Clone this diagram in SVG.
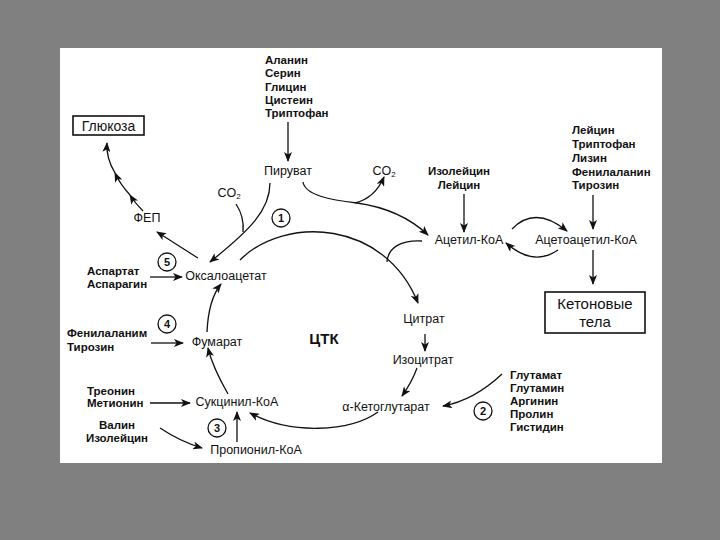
<svg xmlns="http://www.w3.org/2000/svg" width="720" height="540" viewBox="0 0 720 540">
<defs>
<style>
text{font-family:"Liberation Sans",Arial,sans-serif;fill:#111}
.m{font-size:12.5px}
.l{font-size:11.5px;font-weight:bold}
.c{text-anchor:middle}
.box{fill:#fff;stroke:#111;stroke-width:1.6}
.num{fill:none;stroke:#111;stroke-width:1.3}
.n{font-size:11px;font-weight:bold;text-anchor:middle}
.e path{fill:none;stroke:#111;stroke-width:1.3}
.e path.a{marker-end:url(#ah)}
</style>
<marker id="ah" viewBox="0 0 10 8" refX="9" refY="4" markerWidth="11" markerHeight="8" markerUnits="userSpaceOnUse" orient="auto">
<path d="M0,0 L10,4 L0,8 L2.5,4 z" fill="#111"/>
</marker>
</defs>
<rect x="0" y="0" width="720" height="540" fill="#808080"/>
<rect x="60" y="48" width="602" height="415" fill="#fff"/>

<g class="e" id="connectors">
<path class="a" d="M288,122 L288,161"/>
<path class="a" d="M464,194 L464,232"/>
<path class="a" d="M593,195 L593,229"/>
<path class="a" d="M593,250 L593,284"/>
<path class="a" d="M512,229 Q535,205 567,231"/>
<path class="a" d="M558,250 Q533,267 506,243"/>
<path class="a" d="M303,182 C305,195 330,200 357,203 C385,207 410,218 428,235"/>
<path class="a" d="M355,203 Q375,198 384,177"/>
<path class="a" d="M270,183 C270,210 250,230 210,262"/>
<path d="M236,204 C242,213 244,222 243,232"/>
<path class="a" d="M240,260 C285,215 385,220 418,303"/>
<path d="M422,241 C400,240 388,248 387,262"/>
<path class="a" d="M425,334 L425,351"/>
<path class="a" d="M417,368 Q412,382 402,396"/>
<path class="a" d="M502,374 C485,390 465,402 443,406"/>
<path class="a" d="M378,412 C350,432 290,435 250,413"/>
<path class="a" d="M228,394 C220,380 212,365 208,348"/>
<path class="a" d="M207,332 C208,310 212,295 221,284"/>
<path class="a" d="M198,258 C185,250 170,240 157,232"/>
<path class="a" d="M143,211 Q135,203 130,195"/>
<path class="a" d="M130,195 Q120,184 115,173"/>
<path class="a" d="M115,173 Q106,158 107,143"/>
<path class="a" d="M150,277 L182,277"/>
<path class="a" d="M151,343 L183,343"/>
<path class="a" d="M150,403 L190,403"/>
<path class="a" d="M160,428 C172,436 185,443 202,448"/>
<path class="a" d="M237,442 L237,412"/>
</g>

<g id="aa-pyruvate">
<text class="l" x="265" y="64">Аланин</text>
<text class="l" x="265" y="77">Серин</text>
<text class="l" x="265" y="91">Глицин</text>
<text class="l" x="265" y="104">Цистеин</text>
<text class="l" x="265" y="117">Триптофан</text>
</g>
<g id="pyruvate"><text class="m c" x="288" y="175">Пируват</text></g>
<g id="co2-top"><text class="m c" x="384" y="175">CO<tspan font-size="8" dy="2">2</tspan></text></g>
<g id="co2-left"><text class="m c" x="229" y="197">CO<tspan font-size="8" dy="2">2</tspan></text></g>
<g id="aa-acetyl">
<text class="l c" x="459" y="175">Изолейцин</text>
<text class="l c" x="459" y="189">Лейцин</text>
</g>
<g id="acetyl-coa"><text class="m c" x="469" y="244">Ацетил-КоА</text></g>
<g id="acetoacetyl-coa"><text class="m c" x="586" y="244">Ацетоацетил-КоА</text></g>
<g id="aa-acetoacetyl">
<text class="l" x="572" y="134">Лейцин</text>
<text class="l" x="572" y="148">Триптофан</text>
<text class="l" x="572" y="162">Лизин</text>
<text class="l" x="572" y="176">Фенилаланин</text>
<text class="l" x="572" y="189">Тирозин</text>
</g>
<g id="ketone-bodies">
<rect class="box" x="545" y="292" width="100" height="41"/>
<text class="c" x="595" y="309" font-size="15">Кетоновые</text>
<text class="c" x="595" y="327" font-size="15">тела</text>
</g>
<g id="glucose">
<rect class="box" x="73" y="116" width="71" height="19"/>
<text class="c" x="108.5" y="131" font-size="14">Глюкоза</text>
</g>
<g id="pep"><text class="m c" x="147" y="222">ФЕП</text></g>
<g id="oxaloacetate"><text class="m c" x="226" y="280">Оксалоацетат</text></g>
<g id="aa-oxaloacetate">
<text class="l" x="87" y="275">Аспартат</text>
<text class="l" x="87" y="288">Аспарагин</text>
</g>
<g id="fumarate"><text class="m c" x="217" y="346">Фумарат</text></g>
<g id="aa-fumarate">
<text class="l" x="67" y="337">Фенилаланим</text>
<text class="l" x="67" y="351">Тирозин</text>
</g>
<g id="succinyl-coa"><text class="m c" x="237" y="406">Сукцинил-КоА</text></g>
<g id="aa-succinyl">
<text class="l" x="87" y="395">Треонин</text>
<text class="l" x="87" y="407">Метионин</text>
</g>
<g id="aa-propionyl">
<text class="l c" x="117" y="429">Валин</text>
<text class="l c" x="117" y="442">Изолейцин</text>
</g>
<g id="propionyl-coa"><text class="m c" x="256" y="454">Пропионил-КоА</text></g>
<g id="tca"><text x="324" y="344" font-size="15" font-weight="bold" text-anchor="middle">ЦТК</text></g>
<g id="citrate"><text class="m c" x="424" y="323">Цитрат</text></g>
<g id="isocitrate"><text class="m c" x="423" y="364">Изоцитрат</text></g>
<g id="alpha-kg"><text class="m c" x="386" y="411">α-Кетоглутарат</text></g>
<g id="aa-akg">
<text class="l" x="510" y="379">Глутамат</text>
<text class="l" x="510" y="392">Глутамин</text>
<text class="l" x="510" y="405">Аргинин</text>
<text class="l" x="510" y="418">Пролин</text>
<text class="l" x="510" y="431">Гистидин</text>
</g>
<g id="step1"><circle class="num" cx="281" cy="218" r="9"/><text class="n" x="281" y="222">1</text></g>
<g id="step2"><circle class="num" cx="483" cy="411" r="9"/><text class="n" x="483" y="415">2</text></g>
<g id="step3"><circle class="num" cx="217" cy="428" r="9"/><text class="n" x="217" y="432">3</text></g>
<g id="step4"><circle class="num" cx="167" cy="324" r="9"/><text class="n" x="167" y="328">4</text></g>
<g id="step5"><circle class="num" cx="167" cy="262" r="9"/><text class="n" x="167" y="266">5</text></g>
</svg>
